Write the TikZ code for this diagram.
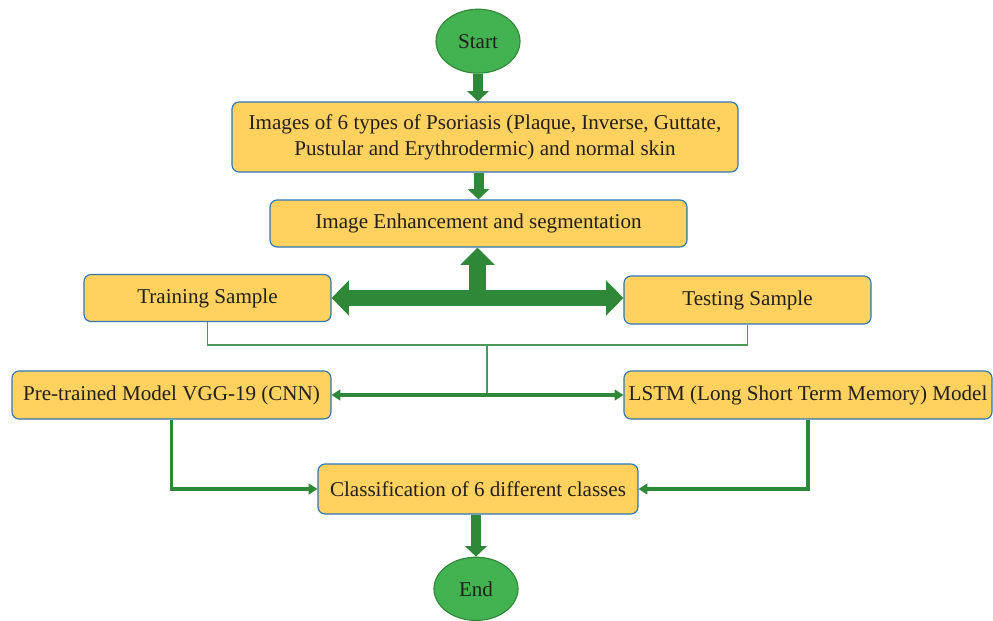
\documentclass[tikz,border=0pt]{standalone}
\usepackage{fontspec}
\setmainfont{Liberation Serif}
\usetikzlibrary{arrows.meta, calc, shapes.geometric}

\definecolor{boxfill}{RGB}{255,209,95}
\definecolor{boxline}{RGB}{46,117,182}
\definecolor{ovalfill}{RGB}{67,178,80}
\definecolor{ovalline}{RGB}{46,136,56}
\definecolor{flowgreen}{RGB}{46,136,56}
\definecolor{txt}{RGB}{35,31,32}

\begin{document}
\begin{tikzpicture}[
    box/.style = {
      rectangle, draw = boxline, line width = 0.8pt, rounded corners = 5pt,
      fill = boxfill, align = center, inner sep = 0pt,
      font = \fontsize{15pt}{18.5pt}\selectfont, text = txt
    },
    oval/.style = {
      ellipse, draw = ovalline, line width = 0.8pt, fill = ovalfill,
      minimum width = 2.1cm, minimum height = 1.6cm, inner sep = 0pt,
      font = \fontsize{15pt}{18.5pt}\selectfont, text = txt
    },
    bigarr/.style = {-{Triangle[width=0.53cm, length=0.26cm]},
      line width = 0.25cm, flowgreen},
    widearr/.style = {{Triangle[width=0.85cm, length=0.43cm]}-{Triangle[width=0.85cm, length=0.43cm]},
      line width = 0.4cm, flowgreen},
    uparr/.style = {-{Triangle[width=0.83cm, length=0.43cm]},
      line width = 0.42cm, flowgreen},
    arr/.style = {-{Triangle[width=0.27cm, length=0.22cm]},
      line width = 2.4pt, flowgreen},
    botharr/.style = {{Triangle[width=0.27cm, length=0.22cm]}-{Triangle[width=0.27cm, length=0.22cm]},
      line width = 2.4pt, flowgreen},
    link/.style = {line width = 0.8pt, flowgreen!85}
  ]

  \useasboundingbox (0,0) rectangle (24.825,-15.5);

  % ---- Inicio y entrada ----
  \node[oval] (start) at (11.95,-1.03) {Start};
  \node[box, minimum width = 12.65cm, minimum height = 1.75cm] (imgs) at (12.125,-3.425)
    {Images of 6 types of Psoriasis (Plaque, Inverse, Guttate,\\Pustular and Erythrodermic) and normal skin};
  \node[box, minimum width = 10.425cm, minimum height = 1.175cm] (enh) at (11.9625,-5.5875)
    {Image Enhancement and segmentation};

  \draw[bigarr] (start.south) -- (start.south |- imgs.north);
  \draw[bigarr] (imgs.south -| enh.north) -- (enh.north);

  % ---- Muestras ----
  \node[box, minimum width = 6.175cm, minimum height = 1.175cm] (train) at (5.1875,-7.45) {Training Sample};
  \node[box, minimum width = 6.175cm, minimum height = 1.2cm] (test) at (18.6875,-7.5) {Testing Sample};

  \coordinate (split) at ($(train.east)!0.5!(test.west)$);
  \draw[widearr] (train.east) -- (train.east -| test.west);
  \draw[uparr] (split) -- (split |- enh.south);

  % ---- Modelos ----
  \node[box, minimum width = 7.975cm, minimum height = 1.2cm] (vgg) at (4.2875,-9.875)
    {Pre-trained Model VGG-19 (CNN)};
  \node[box, minimum width = 9.2cm, minimum height = 1.2cm] (lstm) at (20.2,-9.875)
    {LSTM (Long Short Term Memory) Model};

  \coordinate (join) at (12.175,-8.625);
  \draw[link] (train.south) |- (join) -| (test.south);
  \draw[link] (join) -- (join |- vgg.east);
  \draw[botharr] (vgg.east) -- (lstm.west);

  % ---- Clasificacion y fin ----
  \node[box, minimum width = 8.0cm, minimum height = 1.25cm] (cls) at (11.95,-12.225)
    {Classification of 6 different classes};
  \node[oval, minimum height = 1.58cm] (end) at (11.9,-14.72) {End};

  \draw[arr] (vgg.south) |- (cls.west);
  \draw[arr] (lstm.south) |- (cls.east);
  \draw[bigarr] (cls.south -| end.north) -- (end.north);

\end{tikzpicture}
\end{document}
